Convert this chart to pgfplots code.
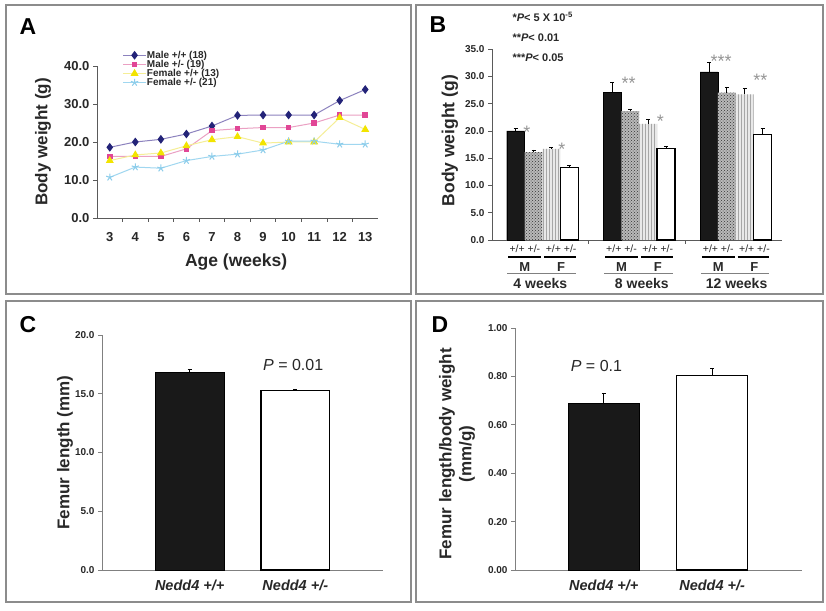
\documentclass[border=0pt]{standalone}
\usepackage{pgfplots}
\pgfplotsset{compat=1.18}
\usepackage{fontspec}
\setmainfont{Liberation Sans}
\usetikzlibrary{patterns}

\newcommand\fs[1]{\fontsize{#1}{#1}\selectfont}

\definecolor{framegray}{RGB}{140,140,140}
\definecolor{axgray}{RGB}{90,90,90}
\definecolor{txt}{RGB}{40,40,40}
\definecolor{mppL}{RGB}{140,130,190}
\definecolor{mppM}{RGB}{35,35,120}
\definecolor{mpmL}{RGB}{235,160,195}
\definecolor{mpmM}{RGB}{225,70,150}
\definecolor{fppL}{RGB}{245,238,150}
\definecolor{fppM}{RGB}{242,228,0}
\definecolor{fpmL}{RGB}{160,215,240}
\definecolor{fpmM}{RGB}{140,205,235}
\definecolor{stargray}{RGB}{150,150,150}

\pgfplotsset{
  panel/.style={
    anchor=south west, scale only axis,
    axis x line*=bottom, axis y line*=left,
    axis line style={-, axgray, line width=0.7pt},
    tick style={axgray, line width=0.7pt},
    tick align=outside, major tick length=4pt, minor tick length=4pt,
    ticklabel style={text=txt},
    /pgf/number format/assume math mode=true,
    yticklabel style={/pgf/number format/fixed, /pgf/number format/fixed zerofill,
      /pgf/number format/precision=1},
    label style={font=\bfseries\fs{17.5}, text=txt},
    clip=false,
  },
  errs/.style={error bars/.cd, y dir=plus, y explicit,
    error bar style={black, line width=0.9pt},
    error mark options={rotate=90, black, mark size=2pt, line width=0.9pt}},
}

\begin{document}
\begin{tikzpicture}[x=1pt,y=1pt]
\useasboundingbox (0,0) rectangle (826,610);
\fill[white] (0,0) rectangle (826,610);
% panel frames
\draw[framegray, line width=1.3pt] (6,316) rectangle (411,605);
\draw[framegray, line width=1.3pt] (416,316) rectangle (823,605);
\draw[framegray, line width=1.3pt] (6,8) rectangle (411,309);
\draw[framegray, line width=1.3pt] (416,8) rectangle (823,309);
% panel letters
\node[font=\bfseries\fs{23}] at (28,583) {A};
\node[font=\bfseries\fs{23}] at (438,585) {B};
\node[font=\bfseries\fs{23}] at (28,285) {C};
\node[font=\bfseries\fs{23}] at (440,285) {D};

% ---------- A ----------
\begin{axis}[panel, at={(97pt,392pt)}, width=281pt, height=152pt,
  xmin=2.5, xmax=13.5, ymin=0, ymax=40,
  xtick={3,...,13}, minor xtick={3.5,4.5,...,12.5},
  major x tick style={draw=none},
  ytick={0,10,...,40},
  ticklabel style={font=\bfseries\fs{13}},
  xticklabel style={yshift=-7pt},
  xlabel={Age (weeks)}, ylabel={Body weight (g)},
  xlabel style={at={(axis description cs:0.495,-0.29)}, anchor=center},
  ylabel style={font=\bfseries\fs{17}, at={(axis description cs:-0.192,0.5)}, anchor=center},
  legend style={at={(0.08,1.115)}, anchor=north west, draw=none, fill=none,
    font=\bfseries\fs{10}, text=txt, row sep=0pt,
    nodes={inner sep=0.5pt, text height=7.3pt, text depth=0.8pt}},
  legend cell align=left,
  legend image code/.code={\draw[mark repeat=2, mark phase=2, #1]
    plot coordinates {(0cm,0cm) (0.4cm,0cm) (0.8cm,0cm)};},
]
\addplot[mppL, line width=1pt, mark=diamond*, mark size=3.6pt,
  mark options={draw=mppM, fill=mppM}] coordinates {
  (3,18.6) (4,20.0) (5,20.7) (6,22.1) (7,24.2) (8,27.0) (9,27.1)
  (10,27.1) (11,27.1) (12,30.9) (13,33.8)};
\addlegendentry{Male +/+ (18)}
\addplot[mpmL, line width=1pt, mark=square*, mark size=2.3pt,
  mark options={draw=mpmM, fill=mpmM}] coordinates {
  (3,16.2) (4,16.2) (5,16.2) (6,18.2) (7,23.0) (8,23.5) (9,23.8)
  (10,23.8) (11,25.0) (12,27.1) (13,27.1)};
\addlegendentry{Male +/- (19)}
\addplot[fppL, line width=1pt, mark=triangle*, mark size=3.6pt,
  mark options={draw=fppM, fill=fppM}] coordinates {
  (3,15.1) (4,16.6) (5,17.1) (6,19.0) (7,20.6) (8,21.4) (9,19.7)
  (10,20.0) (11,20.0) (12,26.4) (13,23.3)};
\addlegendentry{Female +/+ (13)}
\addplot[fpmL, line width=1pt, mark=star, mark size=3.8pt,
  mark options={draw=fpmM, line width=1pt}] coordinates {
  (3,10.7) (4,13.4) (5,13.1) (6,15.1) (7,16.2) (8,16.8) (9,17.9)
  (10,20.2) (11,20.2) (12,19.4) (13,19.4)};
\addlegendentry{Female +/- (21)}
\end{axis}

% ---------- B ----------
\node[anchor=west, font=\bfseries\fs{11}, text=txt] at (509,593) {*\textit{P}< 5 X 10\textsuperscript{-5}};
\node[anchor=west, font=\bfseries\fs{11}, text=txt] at (509,572) {**\textit{P}< 0.01};
\node[anchor=west, font=\bfseries\fs{11}, text=txt] at (509,552) {***\textit{P}< 0.05};
\begin{axis}[panel, at={(492pt,370pt)}, width=290pt, height=191pt,
  xmin=-0.5, xmax=2.5, ymin=0, ymax=35,
  xtick={0.5,1.5}, xticklabels={},
  ytick={0,5,...,35},
  ticklabel style={font=\bfseries\fs{10}},
  ylabel={Body weight (g)},
  ylabel style={at={(axis description cs:-0.145,0.52)}, anchor=center},
  ybar, bar width=0.185, bar shift=0pt,
]
\addplot[fill=black!90, draw=black, errs] coordinates {
  (-0.255,20.0) +- (0,0.4) (0.745,27.0) +- (0,1.8) (1.745,30.8) +- (0,1.7)};
\addplot[fill=gray!55, draw=none, postaction={pattern=crosshatch dots, pattern color=gray!40!black}, errs] coordinates {
  (-0.07,16.1) +- (0,0.4) (0.93,23.6) +- (0,0.3) (1.93,27.0) +- (0,0.9)};
\addplot[fill=gray!18, draw=none, postaction={pattern=vertical lines, pattern color=gray!70}, errs] coordinates {
  (0.115,16.7) +- (0,0.3) (1.115,21.3) +- (0,0.8) (2.115,26.7) +- (0,1.1)};
\addplot[fill=white, draw=black, line width=1.2pt, errs] coordinates {
  (0.30,13.3) +- (0,0.3) (1.30,16.8) +- (0,0.4) (2.30,19.4) +- (0,1.1)};
% significance marks
\node[stargray, font=\fs{18}, yshift=-4.5pt] at (axis cs:-0.138,20.6) {*};
\node[stargray, font=\fs{18}, yshift=-4.5pt] at (axis cs:0.224,17.4) {*};
\node[stargray, font=\fs{18}, yshift=-4.5pt] at (axis cs:0.914,29.6) {**};
\node[stargray, font=\fs{18}, yshift=-4.5pt] at (axis cs:1.241,22.5) {*};
\node[stargray, font=\fs{18}, yshift=-4.5pt] at (axis cs:1.869,33.5) {***};
\node[stargray, font=\fs{18}, yshift=-4.5pt] at (axis cs:2.276,30.1) {**};
% group labels under the axis
\pgfplotsinvokeforeach{0,1,2}{
  \node[font=\fs{10.5}, text=txt] at ([yshift=-9pt]axis cs:#1-0.16,0) {+/+ +/-};
  \node[font=\fs{10.5}, text=txt] at ([yshift=-9pt]axis cs:#1+0.215,0) {+/+ +/-};
  \draw[black, line width=2.2pt] ([yshift=-17pt]axis cs:#1-0.33,0) -- ([yshift=-17pt]axis cs:#1+0.01,0);
  \draw[black, line width=2.2pt] ([yshift=-17pt]axis cs:#1+0.04,0) -- ([yshift=-17pt]axis cs:#1+0.37,0);
  \node[font=\bfseries\fs{13}, text=txt] at ([yshift=-27pt]axis cs:#1-0.16,0) {M};
  \node[font=\bfseries\fs{13}, text=txt] at ([yshift=-27pt]axis cs:#1+0.215,0) {F};
  \draw[gray, line width=0.8pt] ([yshift=-33pt]axis cs:#1-0.34,0) -- ([yshift=-33pt]axis cs:#1+0.37,0);
}
\node[font=\bfseries\fs{14}, text=txt] at ([yshift=-43pt]axis cs:0.0,0) {4 weeks};
\node[font=\bfseries\fs{14}, text=txt] at ([yshift=-43pt]axis cs:1.05,0) {8 weeks};
\node[font=\bfseries\fs{14}, text=txt] at ([yshift=-43pt]axis cs:2.03,0) {12 weeks};
\end{axis}

% ---------- C ----------
\begin{axis}[panel, at={(102pt,40pt)}, width=281pt, height=235pt,
  xmin=-0.83, xmax=1.83, ymin=0, ymax=20,
  axis line style={-, gray, line width=0.6pt}, tick style={gray},
  xtick={0,1}, xticklabels={Nedd4 +/+, Nedd4 +/-},
  major x tick style={draw=none},
  ytick={0,5,...,20},
  yticklabel style={font=\bfseries\fs{10}},
  xticklabel style={font=\bfseries\itshape\fs{14.5}, yshift=-2pt},
  ylabel={Femur length (mm)},
  ylabel style={font=\bfseries\fs{17}, at={(axis description cs:-0.132,0.5)}, anchor=center},
  ybar, bar width=0.65, bar shift=0pt,
]
\addplot[fill=black!90, draw=black, errs] coordinates {(0,16.8) +- (0,0.3)};
\addplot[fill=white, draw=black, line width=1.2pt, errs] coordinates {(1,15.25) +- (0,0.12)};
\node[font=\fs{16}, text=txt] at (axis cs:0.98,17.45) {\textit{P} = 0.01};
\end{axis}

% ---------- D ----------
\begin{axis}[panel, at={(515pt,40pt)}, width=287pt, height=242pt,
  xmin=-0.82, xmax=1.83, ymin=0, ymax=1,
  axis line style={-, gray, line width=0.6pt}, tick style={gray},
  xtick={0,1}, xticklabels={Nedd4 +/+, Nedd4 +/-},
  major x tick style={draw=none},
  ytick={0,0.2,...,1.0},
  yticklabel style={font=\bfseries\fs{10}, /pgf/number format/precision=2},
  xticklabel style={font=\bfseries\itshape\fs{14.5}, yshift=-2pt},
  ylabel={Femur length/body weight\\(mm/g)},
  ylabel style={font=\bfseries\fontsize{17}{20}\selectfont, align=center,
    at={(axis description cs:-0.202,0.48)}, anchor=center},
  ybar, bar width=0.66, bar shift=0pt,
]
\addplot[fill=black!90, draw=black, errs] coordinates {(0,0.690) +- (0,0.041)};
\addplot[fill=white, draw=black, line width=1.2pt, errs] coordinates {(1,0.803) +- (0,0.031)};
\node[font=\fs{16}, text=txt] at (axis cs:-0.068,0.844) {\textit{P} = 0.1};
\end{axis}
\end{tikzpicture}
\end{document}
